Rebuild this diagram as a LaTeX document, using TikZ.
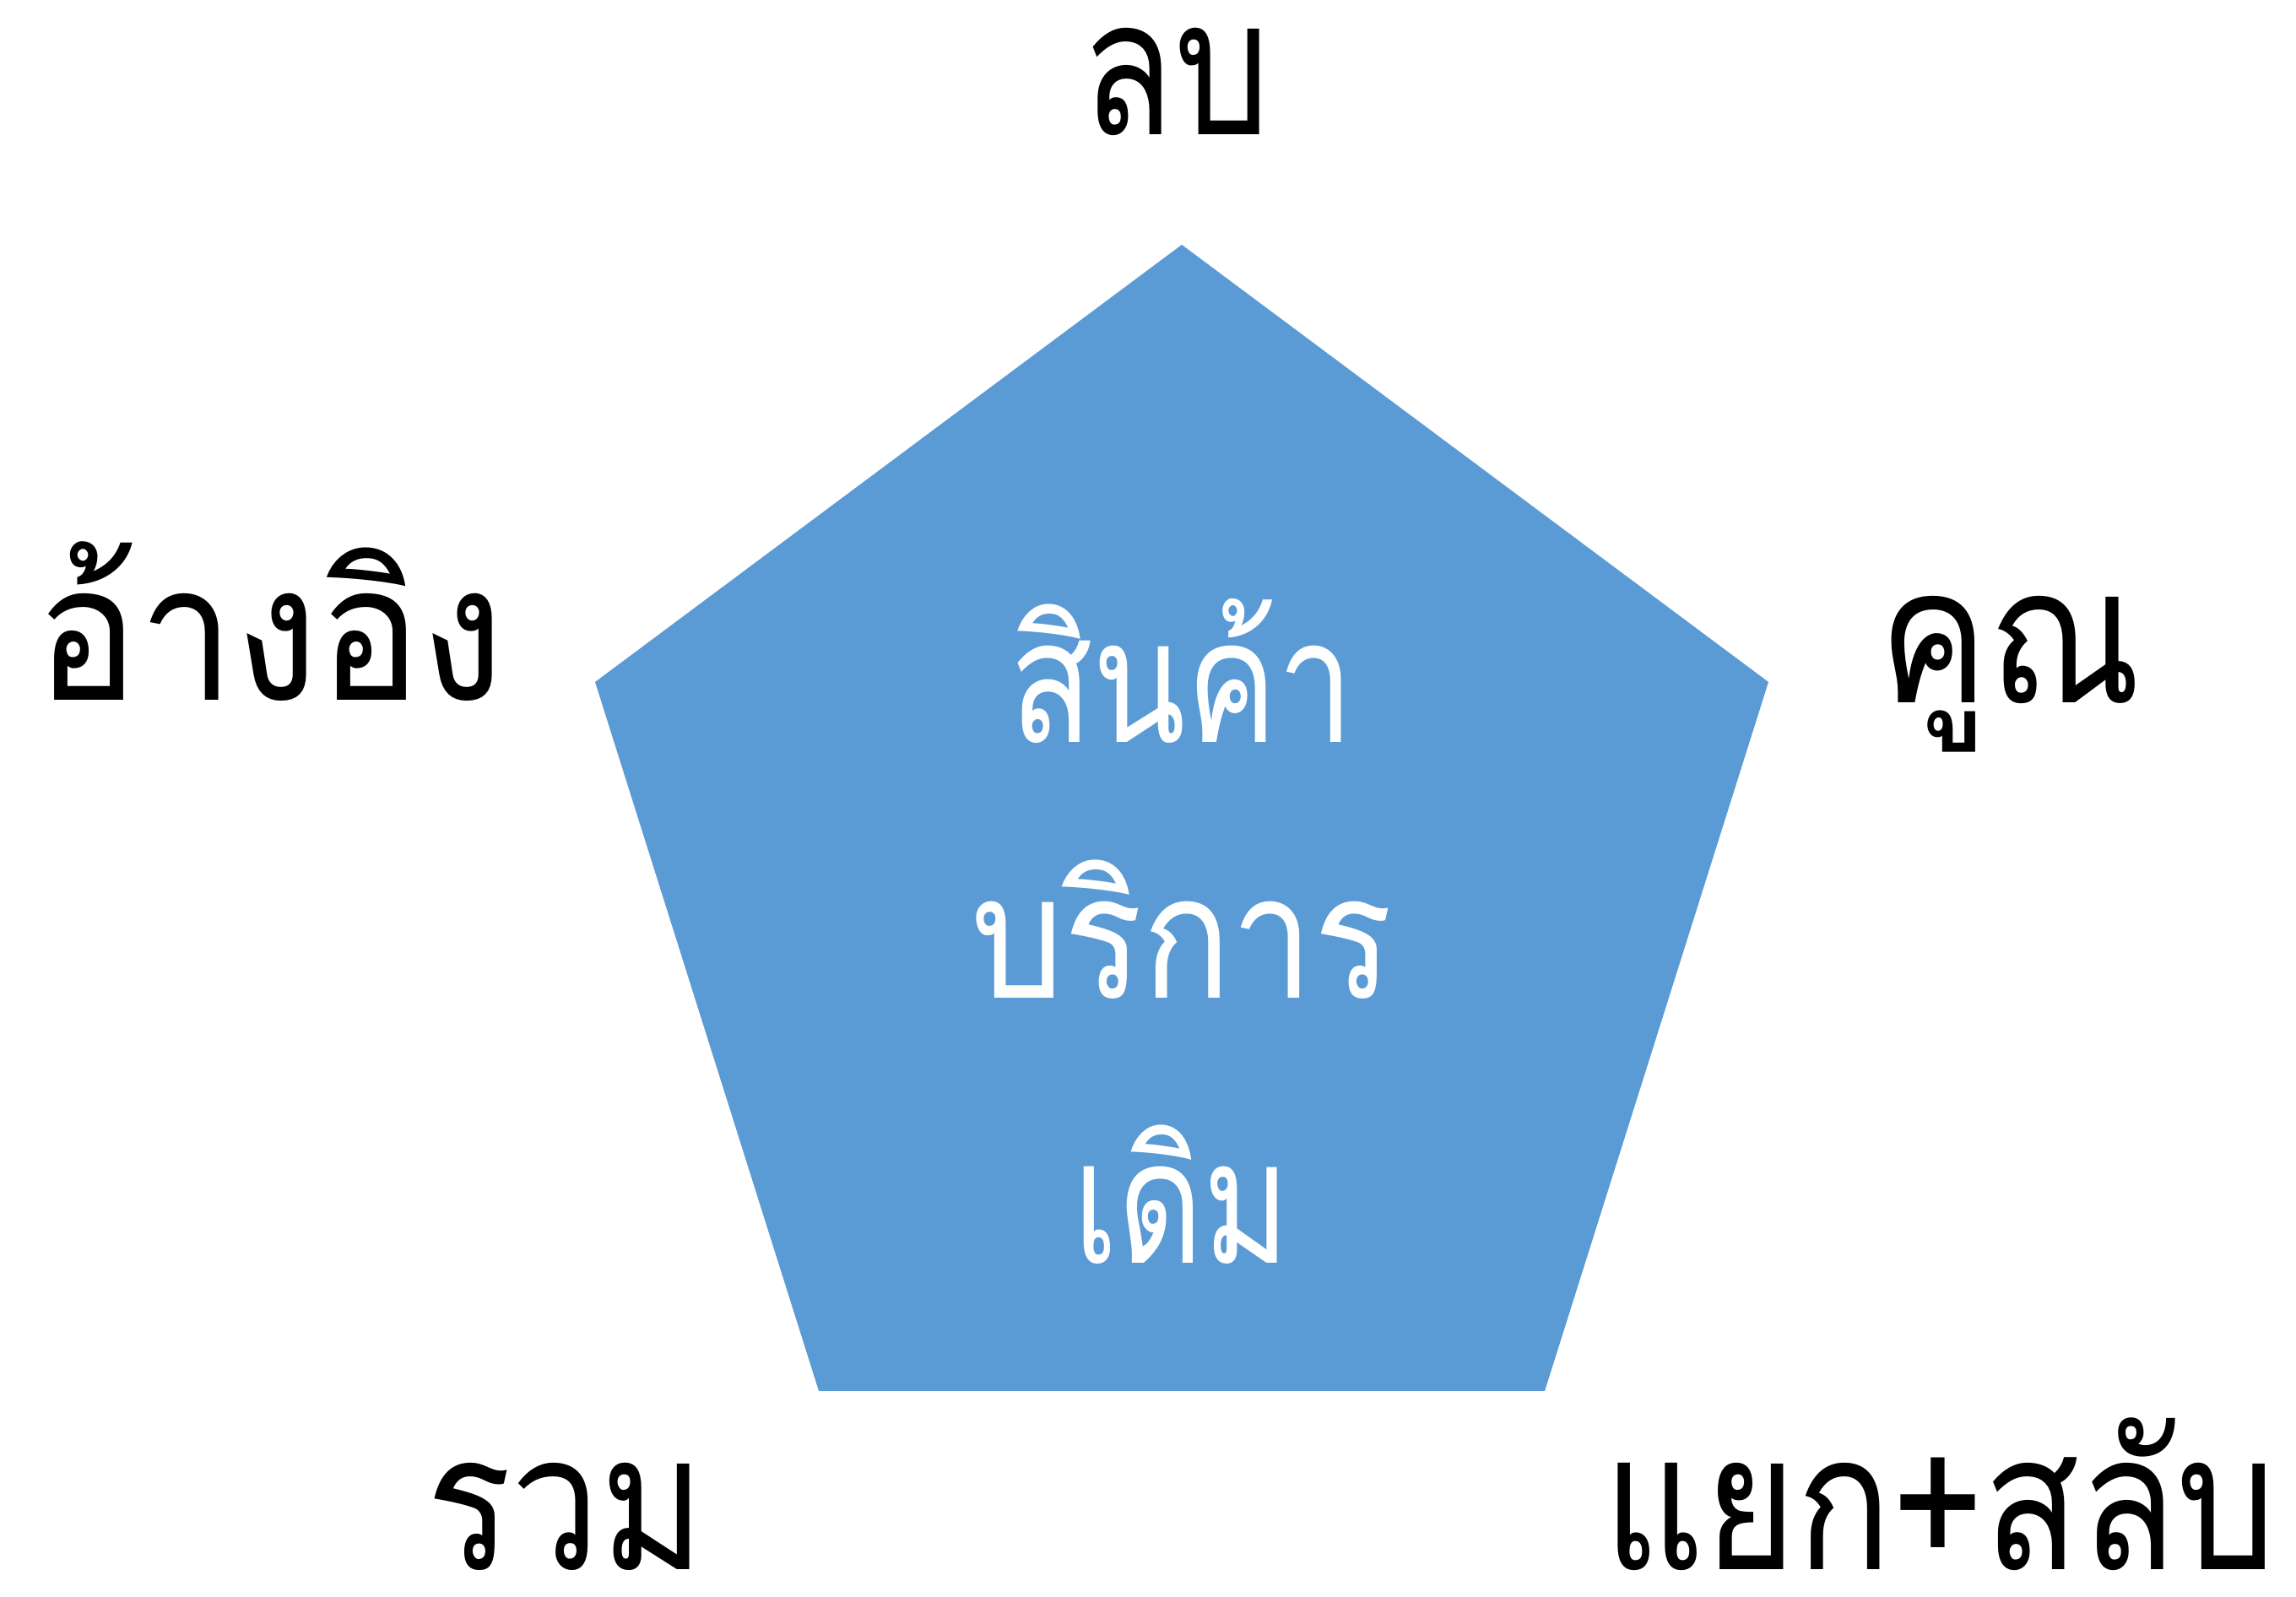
\documentclass[tikz,border=0pt]{standalone}
\usepackage{fontspec}
\usepackage{graphicx}
\newfontfamily\thaifont[Script=Thai]{Loma}
\usepackage{tikz}
\usetikzlibrary{positioning}
\definecolor{pentblue}{RGB}{91,155,213}
\tikzstyle{side} = [font=\thaifont\fontsize{64}{68}\selectfont, text=black, anchor=base, inner sep=0pt, text depth=0pt]
\tikzstyle{core} = [font=\thaifont\fontsize{58}{62}\selectfont, text=white, anchor=base, inner sep=0pt]
\newcommand{\wordbox}[2]{\resizebox{#1}{\height}{#2}}

\begin{document}
\begin{tikzpicture}
    \useasboundingbox (0,0) rectangle (27.2,18.92);
    % pentagon corners
    \coordinate (top) at (14,16.02);
    \coordinate (rt) at (20.95,10.84);
    \coordinate (br) at (18.30,2.44);
    \coordinate (bl) at (9.70,2.44);
    \coordinate (lt) at (7.05,10.84);
    \fill[pentblue] (top) -- (rt) -- (br) -- (bl) -- (lt) -- cycle;
    % middle text
    \node[core] (l1) at (14,10.12) {\wordbox{4.08cm}{สินค้า}};
    \node[core, below=3.03cm of l1.base, anchor=base] (l2) {\wordbox{5.0cm}{บริการ}};
    \node[core, below=3.14cm of l2.base, anchor=base] (l3) {\wordbox{2.57cm}{เดิม}};
    % outer words
    \node[side] (minus) at (13.93,17.32) {\wordbox{2.23cm}{ลบ}};
    \node[side] (refer) at (3.20,10.62) {\wordbox{5.55cm}{อ้างอิง}};
    \node[side] (times) at (23.81,10.59) {\wordbox{3.12cm}{คูณ}};
    \node[side] (sum) at (6.70,0.32) {\wordbox{3.30cm}{รวม}};
    \node[side] (split) at (22.98,0.32) {\wordbox{7.97cm}{แยก+สลับ}};
\end{tikzpicture}
\end{document}
